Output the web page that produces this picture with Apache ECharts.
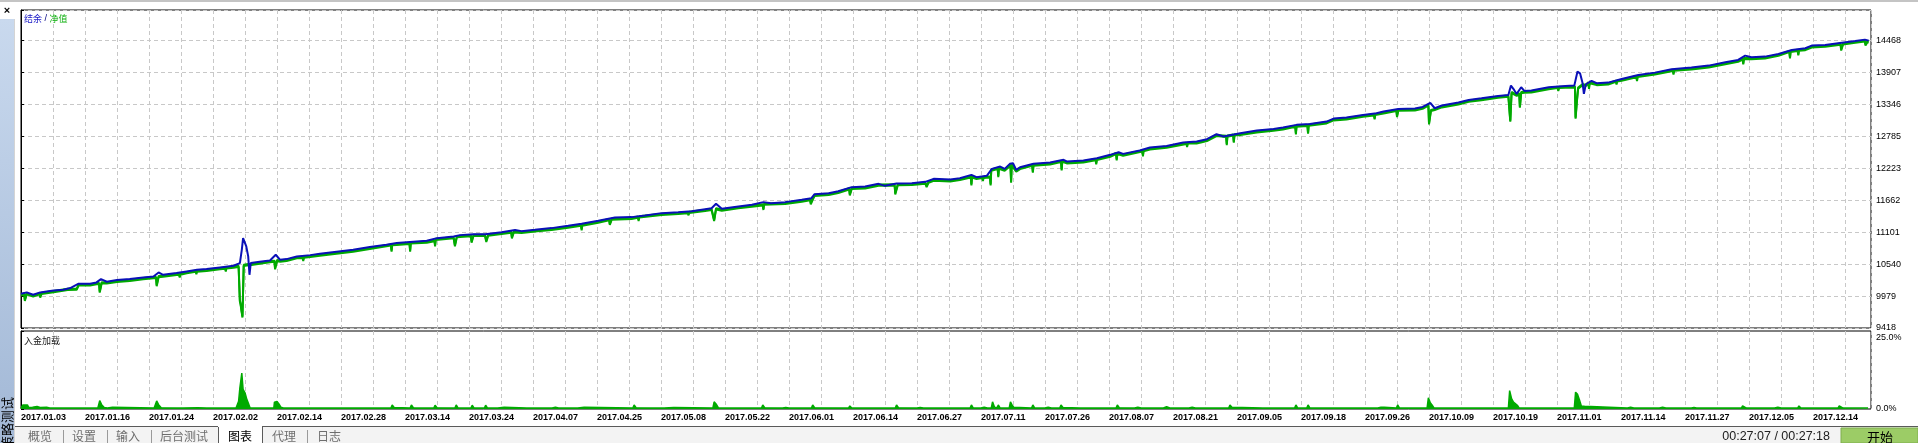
<!DOCTYPE html>
<html>
<head>
<meta charset="utf-8">
<script src="https://cdn.jsdelivr.net/npm/echarts@6/dist/echarts.min.js"></script>
<style>
html,body{margin:0;padding:0;background:#fff;}
#c{width:1918px;height:443px;}
</style>
</head>
<body>
<div id="c"></div>
<script>
// ---------------- data ----------------
const dateLabels = ['2017.01.03','2017.01.16','2017.01.24','2017.02.02','2017.02.14','2017.02.28','2017.03.14','2017.03.24','2017.04.07','2017.04.25','2017.05.08','2017.05.22','2017.06.01','2017.06.14','2017.06.27','2017.07.11','2017.07.26','2017.08.07','2017.08.21','2017.09.05','2017.09.18','2017.09.26','2017.10.09','2017.10.19','2017.11.01','2017.11.14','2017.11.27','2017.12.05','2017.12.14'];
const balanceTicks = ['9418','9979','10540','11101','11662','12223','12785','13346','13907','14468'];
const loadTicks = ['0.0%','25.0%'];
const tabNames = ['概览','设置','输入','后台测试','图表','代理','日志'];
const legendNames = ['结余','净值'];
const loadTitle = '入金加载';

// balance: [trade position, balance]
const balance = [[0,10019],[9,10043],[19,10002],[30,10043],[40,10060],[51,10078],[66,10089],[77,10119],[90,10195],[108,10195],[118,10218],[125,10276],[134,10230],[150,10259],[170,10277],[191,10306],[207,10323],[215,10393],[222,10352],[243,10382],[259,10411],[275,10440],[290,10452],[311,10481],[332,10510],[342,10557],[345,10791],[347,10995],[352,10849],[355,10674],[357,10352],[359,10557],[373,10580],[389,10604],[398,10703],[405,10615],[415,10627],[431,10674],[452,10697],[467,10721],[493,10756],[519,10791],[545,10838],[571,10878],[587,10908],[613,10931],[634,10949],[650,10995],[676,11024],[686,11048],[707,11065],[725,11065],
[751,11100],[772,11136],[782,11118],[803,11141],[829,11171],[855,11212],[876,11247],[902,11299],[928,11358],[954,11364],[975,11393],[1001,11434],[1027,11451],[1048,11469],[1069,11504],[1079,11521],[1086,11597],[1095,11510],[1121,11551],[1142,11580],[1160,11627],[1172,11609],[1194,11627],[1220,11667],[1235,11697],[1240,11767],[1262,11784],[1277,11819],[1298,11890],[1319,11901],[1340,11948],[1350,11913],[1368,11954],[1392,11960],[1413,11983],[1426,12036],[1452,12024],
[1467,12047],[1485,12106],[1493,12065],[1509,12088],[1517,12211],[1530,12252],[1537,12211],[1545,12299],[1550,12310],[1555,12193],[1561,12240],[1582,12299],[1608,12322],[1629,12369],[1634,12340],[1660,12357],[1681,12398],[1702,12457],[1715,12503],[1722,12474],[1748,12532],[1764,12585],[1790,12614],[1816,12673],[1837,12690],[1853,12731],[1868,12819],[1879,12778],[1905,12836],[1931,12883],[1957,12912],[1972,12936],[1993,12983],[2014,13000],[2040,13041],[2051,13094],[2071,13111],[2097,13158],[2118,13187],[2129,13216],[2152,13263],[2178,13270],
[2190,13298],[2202,13368],[2209,13275],[2220,13322],[2246,13374],[2262,13421],[2282,13450],[2308,13491],[2324,13509],[2328,13672],[2333,13596],[2337,13526],[2344,13643],[2349,13579],[2360,13585],[2387,13643],[2413,13666],[2427,13672],[2432,13918],[2436,13888],[2440,13713],[2442,13526],[2445,13696],[2454,13754],[2462,13713],[2480,13725],[2501,13789],[2527,13859],[2553,13900],[2579,13959],[2610,13988],[2637,14023],[2663,14081],[2683,14122],[2694,14198],[2704,14169],[2725,14181],[2746,14227],[2767,14298],[2788,14327],[2798,14374],[2819,14385],[2845,14426],[2866,14455],[2881,14479],[2887,14461]];

// equity: [trade position, equity]
const equity = [[0,10008],[5,10030],[6,9914],[8,9914],[9,10030],[19,9990],[29,10030],[30,9972],[31,9972],[32,10035],[51,10066],[73,10105],[74,10078],[75,10105],[87,10110],[90,10183],[108,10183],[118,10206],[122,10210],[123,10060],[125,10060],[126,10220],[134,10218],[150,10247],[170,10265],[191,10294],[207,10311],[211,10315],[212,10171],[214,10171],[215,10330],[222,10340],[243,10370],[247,10372],[248,10323],[249,10372],[259,10399],[273,10425],[274,10382],[275,10428],[290,10440],[311,10469],[319,10480],[320,10428],[321,10485],[332,10498],[340,10510],[341,10500],[342,9900],[343,9856],[345,9700],[346,9622],[347,9640],[348,10528],[355,10540],[360,10545],[373,10568],[389,10592],[396,10600],[397,10469],[399,10469],[400,10610],[405,10603],[415,10615],[431,10662],[440,10668],[441,10615],[442,10670],[452,10685],[467,10709],[493,10744],[519,10779],[545,10826],[578,10885],[579,10779],[580,10890],[587,10896],[607,10915],[608,10779],[609,10920],[634,10937],[646,10960],[647,10873],[648,10985],[676,11012],[677,11015],[678,10873],[680,10873],[681,11030],[686,11036],[703,11050],[704,10937],[706,10937],[707,11053],[725,11053],
[726,11055],[727,10949],[729,10949],[730,11060],[751,11088],[766,11110],[767,11013],[769,11013],[770,11115],[782,11106],[807,11135],[808,11112],[809,11140],[829,11159],[855,11200],[875,11235],[876,11153],[877,11235],[902,11287],[919,11330],[920,11247],[922,11247],[923,11340],[954,11352],[964,11375],[965,11317],[966,11378],[1001,11422],[1027,11439],[1042,11455],[1043,11416],[1044,11458],[1069,11492],[1079,11509],[1082,11515],[1083,11317],[1085,11317],[1086,11520],[1095,11498],[1121,11539],[1159,11590],[1160,11510],[1161,11600],[1194,11615],[1220,11655],[1233,11680],[1234,11609],[1236,11609],[1237,11690],[1240,11755],[1262,11772],[1277,11807],[1294,11870],[1295,11767],[1297,11767],[1298,11878],[1319,11889],[1340,11936],[1365,11940],[1366,11784],[1369,11784],[1370,11945],[1392,11948],[1413,11971],[1414,11975],[1415,11913],[1417,11913],[1418,11985],[1426,12024],[1452,12012],
[1467,12035],[1484,12080],[1485,11942],[1486,12080],[1493,12053],[1502,12070],[1503,12018],[1504,12072],[1509,12076],[1514,12078],[1515,11942],[1516,12199],[1526,12230],[1527,12088],[1528,12235],[1537,12199],[1546,12287],[1547,11989],[1548,12290],[1555,12181],[1561,12228],[1580,12285],[1581,12164],[1582,12287],[1608,12310],[1625,12350],[1626,12205],[1627,12355],[1634,12328],[1660,12345],[1679,12384],[1680,12310],[1681,12386],[1702,12445],[1711,12490],[1712,12380],[1713,12491],[1722,12462],[1752,12535],[1753,12451],[1754,12540],[1764,12573],[1790,12602],[1821,12670],[1822,12614],[1823,12675],[1837,12678],[1853,12719],[1868,12807],[1883,12790],[1884,12649],[1885,12795],[1894,12815],[1895,12690],[1896,12820],[1905,12824],[1931,12871],[1957,12900],[1972,12924],[1991,12970],[1992,12836],[1993,12971],[2010,12985],[2011,12848],[2012,12990],[2040,13029],[2051,13082],[2071,13099],[2097,13146],[2114,13170],[2115,13099],[2116,13175],[2129,13204],[2149,13245],[2150,13140],[2152,13251],[2178,13258],
[2190,13286],[2199,13340],[2200,13012],[2202,13012],[2203,13246],[2206,13265],[2209,13263],[2220,13310],[2246,13362],[2262,13409],[2282,13438],[2308,13479],[2324,13497],[2326,13500],[2327,13058],[2328,13058],[2329,13560],[2337,13515],[2341,13540],[2342,13304],[2343,13304],[2344,13560],[2349,13567],[2360,13573],[2387,13631],[2401,13650],[2402,13596],[2403,13652],[2413,13654],[2428,13660],[2429,13111],[2430,13111],[2431,13403],[2432,13403],[2433,13640],[2440,13700],[2445,13684],[2449,13730],[2450,13637],[2451,13735],[2462,13701],[2480,13713],[2492,13760],[2493,13713],[2494,13765],[2501,13777],[2524,13840],[2525,13771],[2526,13845],[2553,13888],[2581,13950],[2582,13888],[2583,13952],[2610,13976],[2637,14011],[2663,14069],[2683,14110],[2690,14150],[2691,14064],[2692,14155],[2704,14157],[2725,14169],[2746,14215],[2763,14280],[2764,14169],[2765,14285],[2776,14300],[2777,14222],[2778,14305],[2788,14315],[2798,14362],[2819,14373],[2843,14410],[2844,14309],[2846,14309],[2847,14415],[2866,14443],[2881,14465],[2882,14397],[2884,14397],[2885,14455],[2887,14450]];

// deposit load (%): [trade position, load]
const depositLoad = [[0,0.3],[3,1.3],[10,1.3],[12,0.5],[18,0.6],[25,0.8],[30,0.5],[40,0.6],[45,0.3],[85,0.3],[88,0.6],[92,0.3],[120,0.3],[123,2.7],[126,1.4],[130,0.5],[135,0.3],[143,0.6],[146,0.3],[208,0.3],[212,2.6],[215,1.4],[219,0.4],[245,0.3],[247,0.6],[253,0.3],[276,0.4],[290,0.3],[330,0.3],[332,0.6],[336,0.3],[340,2.5],[342,6.8],[345,11.5],[347,6.3],[350,5.2],[353,3.0],[355,2.0],[358,0.3],[395,0.3],[396,2.2],[400,2.4],[403,1.6],[406,0.6],[410,0.3],[432,0.3],[435,0.6],[440,0.3],[500,0.3],[502,0.4],[505,0.3],[578,0.3],[580,1.3],[583,0.5],[586,0.3],[608,0.3],[610,1.3],[613,0.4],[617,0.3],[645,0.3],[647,1.2],[650,0.4],[653,0.3],[678,0.3],[680,1.3],[683,0.3],[703,0.3],[705,1.2],[708,0.3],[724,0.3],[726,1.2],[729,0.3],[745,0.3],[748,0.6],[755,0.6],[758,0.3],[790,0.3],[793,0.6],[796,0.3],[830,0.3],[835,0.6],[840,0.3],[870,0.3],[873,0.6],[880,0.6],[883,0.3],[956,0.3],[958,1.3],[961,0.4],[964,0.3],[985,0.3],[988,0.6],[991,0.3],[1005,0.3],[1008,0.5],[1020,0.5],[1023,0.3],[1081,0.3],[1083,2.3],[1086,1.6],[1090,0.3],[1110,0.3],[1113,0.6],[1116,0.3],[1157,0.3],[1159,1.3],[1162,0.4],[1165,0.3],[1190,0.3],[1195,0.5],[1200,0.3],[1235,0.3],[1237,1.3],[1240,0.4],[1243,0.3],[1293,0.3],[1295,1.0],[1298,0.3],[1366,0.3],[1368,1.3],[1371,0.4],[1374,0.3],[1400,0.3],[1405,0.5],[1410,0.3],
[1483,0.3],[1485,1.3],[1488,0.3],[1500,0.3],[1505,0.6],[1510,0.3],[1516,0.3],[1518,2.3],[1521,0.6],[1525,0.4],[1527,1.3],[1530,0.3],[1544,0.3],[1546,2.3],[1548,1.5],[1551,0.6],[1554,0.3],[1579,0.3],[1581,1.3],[1584,0.3],[1600,0.3],[1605,0.6],[1610,0.3],[1623,0.3],[1625,1.3],[1628,0.5],[1631,0.3],[1655,0.3],[1658,0.6],[1662,0.3],[1711,0.3],[1713,1.3],[1716,0.4],[1719,0.3],[1740,0.3],[1745,0.6],[1750,0.3],[1785,0.3],[1790,0.7],[1795,0.3],[1825,0.3],[1830,0.6],[1835,0.3],[1887,0.3],[1889,1.3],[1892,0.6],[1895,0.3],[1940,0.3],[1942,0.4],[1945,0.3],[1990,0.3],[1992,1.3],[1995,0.3],[2009,0.3],[2011,1.3],[2014,0.3],[2080,0.3],[2083,0.6],[2086,0.3],[2120,0.3],[2125,0.6],[2130,0.6],[2133,0.3],[2149,0.3],[2151,1.3],[2154,0.3],[2197,0.3],[2199,3.6],[2202,2.0],[2205,1.2],[2208,0.3],[2250,0.3],[2253,0.4],[2256,0.3],[2324,0.3],[2326,5.9],[2329,3.3],[2332,2.2],[2335,2.0],[2338,1.2],[2341,0.3],[2390,0.3],[2393,0.6],[2396,0.3],[2427,0.3],[2429,5.4],[2432,4.7],[2435,3.0],[2438,1.0],[2440,0.9],[2443,0.9],[2446,0.3],[2510,0.3],[2515,0.6],[2520,0.3],[2560,0.3],[2565,0.6],[2570,0.3],[2610,0.3],[2614,0.5],[2618,0.3],[2688,0.3],[2690,1.0],[2693,0.6],[2696,0.3],[2740,0.3],[2745,0.6],[2750,0.3],[2776,0.3],[2778,1.0],[2781,0.3],[2839,0.3],[2841,1.0],[2844,0.6],[2847,0.3],[2886,0.3]];

// ---------------- axis setup ----------------
const BASE = 9418;       // lowest tick of the balance scale
const STEP = 561.1;      // balance tick spacing
const TOP = 14999;       // balance value at the top edge
const X_STEP = 50;       // gridline spacing (trade positions)
const X_LABEL = 100;     // one date label every 100 positions
const X_MAX = 2890.6;

const GREEN = '#00aa00';
const BLUE = '#0a10b8';
const FONT = 'Liberation Sans';
const CJK = '"Noto Sans CJK SC"';

const dash = {color:'#c8c8c8', width:1, type:[4,3]};

const chart = echarts.init(document.getElementById('c'), null, {renderer:'canvas'});

const xLabelFmt = v => {
  const k = v / X_LABEL;
  if (Math.abs(k - Math.round(k)) < 1e-6) return dateLabels[Math.round(k)] || '';
  return '';
};

const option = {
  animation:false,
  backgroundColor:'#fff',
  grid:[
    {left:21, right:47, top:10, height:318, show:true, borderColor:'#000', borderWidth:1, backgroundColor:'#fff'},
    {left:21, right:47, top:331, height:78, show:true, borderColor:'#000', borderWidth:1, backgroundColor:'#fff'}
  ],
  xAxis:[
    {type:'value', gridIndex:0, min:0, max:X_MAX, interval:X_STEP,
     axisLine:{show:false}, axisTick:{show:false}, axisLabel:{show:false},
     splitLine:{show:true, lineStyle:dash}},
    {type:'value', gridIndex:1, min:0, max:X_MAX, interval:X_STEP,
     axisLine:{show:false}, axisTick:{show:false},
     axisLabel:{show:true, formatter:xLabelFmt, align:'left', margin:4,
       fontFamily:FONT, fontSize:9, fontWeight:'bold', color:'#000', showMaxLabel:false, hideOverlap:false},
     splitLine:{show:true, lineStyle:dash}}
  ],
  yAxis:[
    {type:'value', gridIndex:0, position:'right', min:0, max:TOP-BASE, interval:STEP,
     axisLine:{show:true, lineStyle:{color:'#000', width:1}},
     axisTick:{show:true, length:3, lineStyle:{color:'#000'}},
     axisLabel:{show:true, margin:5, fontFamily:FONT, fontSize:9, color:'#000',
       formatter:v => {
         const i = Math.round(v/STEP);
         return Math.abs(v - i*STEP) < 1 ? (balanceTicks[i] || '') : '';
       }},
     splitLine:{show:true, lineStyle:dash}},
    {type:'value', gridIndex:1, position:'right', min:0, max:25, interval:25,
     axisLine:{show:true, lineStyle:{color:'#000', width:1}},
     axisTick:{show:true, length:3, lineStyle:{color:'#000'}},
     axisLabel:{show:true, margin:5, fontFamily:FONT, fontSize:9, color:'#000',
       formatter:v => v >= 25 ? '{t|' + loadTicks[1] + '}' : loadTicks[0],
       rich:{t:{fontFamily:FONT, fontSize:9, color:'#000', padding:[13,0,0,0]}}},
     splitLine:{show:false}}
  ],
  series:[
    {name:legendNames[1], type:'line', xAxisIndex:0, yAxisIndex:0, symbol:'none', z:3,
     data:equity.map(p => [p[0], p[1]-BASE]),
     lineStyle:{color:GREEN, width:2, shadowColor:GREEN, shadowBlur:0, shadowOffsetY:1.2}, itemStyle:{color:GREEN}},
    {name:legendNames[0], type:'line', xAxisIndex:0, yAxisIndex:0, symbol:'none', z:4,
     data:balance.map(p => [p[0], p[1]-BASE]),
     lineStyle:{color:BLUE, width:2}, itemStyle:{color:BLUE}},
    {name:loadTitle, type:'line', xAxisIndex:1, yAxisIndex:1, symbol:'none', z:3,
     data:depositLoad,
     lineStyle:{color:GREEN, width:1.5}, areaStyle:{color:GREEN, opacity:1}}
  ],
  graphic:[]
};

// ---------- window decorations ----------
const g = [];
g.push({type:'rect', shape:{x:0,y:0,width:1918,height:2}, style:{fill:'#c4c4c4'}, silent:true});
g.push({type:'rect', shape:{x:0,y:19,width:14,height:424},
  style:{fill:new echarts.graphic.LinearGradient(0,0,0,1,[{offset:0,color:'#c9d9ee'},{offset:1,color:'#a2b8d6'}])}, silent:true});
g.push({type:'rect', shape:{x:14,y:19,width:1,height:424}, style:{fill:'#d4d4d4'}, silent:true});
g.push({type:'text', x:7, y:11, style:{text:'×', font:'bold 11px ' + FONT, fill:'#000', align:'center', verticalAlign:'middle'}, silent:true});
g.push({type:'text', x:7, y:423, rotation:Math.PI/2, style:{text:'策略测试', font:'13px ' + CJK, fill:'#000', align:'center', verticalAlign:'middle'}, silent:true});
// legend
g.push({type:'text', x:24, y:19, z:10, style:{
  text:'{b|' + legendNames[0] + '}{s| / }{g|' + legendNames[1] + '}', verticalAlign:'middle',
  rich:{b:{font:'9px ' + CJK, fill:'#2020c8'}, s:{font:'9px ' + FONT, fill:'#000080'}, g:{font:'9px ' + CJK, fill:'#10b010'}}}, silent:true});
g.push({type:'text', x:24, y:341, z:10, style:{text:loadTitle, font:'9px ' + CJK, fill:'#202020', verticalAlign:'middle'}, silent:true});
// tab bar
g.push({type:'rect', shape:{x:15,y:426,width:1903,height:17}, style:{fill:'#f3f3f3'}, silent:true});
g.push({type:'rect', shape:{x:15,y:426,width:1903,height:1}, style:{fill:'#5a5a5a'}, silent:true});
g.push({type:'rect', shape:{x:218,y:426,width:44,height:17}, style:{fill:'#fff'}, silent:true});
g.push({type:'rect', shape:{x:218,y:427,width:1,height:16}, style:{fill:'#5a5a5a'}, silent:true});
g.push({type:'rect', shape:{x:262,y:427,width:1,height:16}, style:{fill:'#5a5a5a'}, silent:true});
const tabX = [28,72,116,160,228,272,317];
tabNames.forEach((t,i) => {
  g.push({type:'text', x:tabX[i], y:436, style:{text:t, font:'12px ' + CJK, fill:i===4?'#000':'#6e6e6e', verticalAlign:'middle'}, silent:true});
});
[63,107,151,307].forEach(x => g.push({type:'rect', shape:{x:x,y:430,width:1,height:13}, style:{fill:'#9a9a9a'}, silent:true}));
g.push({type:'text', x:1830, y:437, style:{text:'00:27:07 / 00:27:18', font:'12.5px ' + FONT, fill:'#202020', align:'right', verticalAlign:'middle'}, silent:true});
g.push({type:'rect', shape:{x:1841,y:428,width:77,height:15}, style:{fill:'#9ccc66', stroke:'#7fae4f', lineWidth:1}, silent:true});
g.push({type:'text', x:1880, y:437, style:{text:'开始', font:'13px ' + CJK, fill:'#000', align:'center', verticalAlign:'middle'}, silent:true});
option.graphic = g;

chart.setOption(option);
</script>
</body>
</html>
